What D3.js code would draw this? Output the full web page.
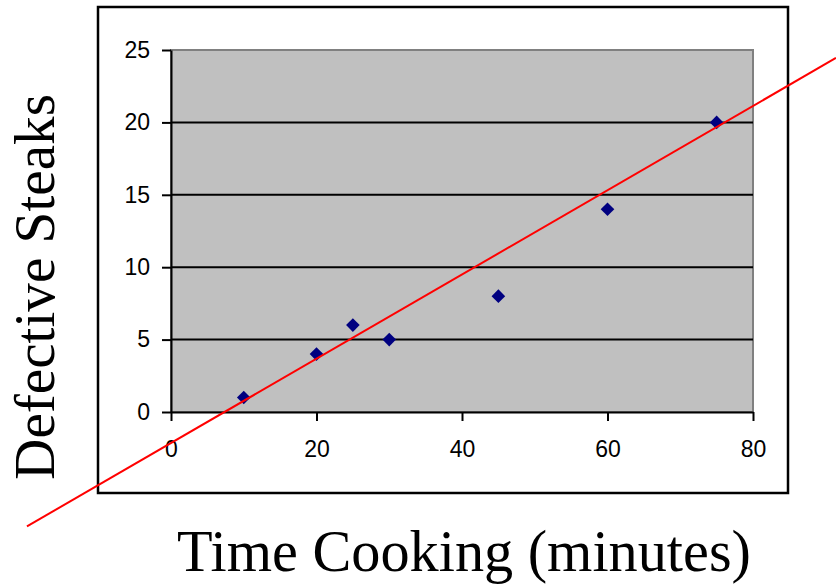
<!DOCTYPE html>
<html>
<head>
<meta charset="utf-8">
<script src="https://cdn.jsdelivr.net/npm/d3@7"></script>
<style>
  html, body { margin: 0; padding: 0; background: #fff; }
  svg { display: block; }
</style>
</head>
<body>
<svg id="chart" width="836" height="584"></svg>
<script>
// Cooking time (minutes) vs. number of defective steaks
const cookingMinutes = [10, 20, 25, 30, 45, 60, 75];
const defectiveSteaks = [1, 4, 6, 5, 8, 14, 20];

// Axis ticks
const xTicks = [0, 20, 40, 60, 80];
const yTicks = [0, 5, 10, 15, 20, 25];

// Fitted trend line, given by its two end points in data units
const trendX = [-19.8, 91.4];
const trendY = [-7.9, 24.45];

const xTitle = "Time Cooking (minutes)";
const yTitle = "Defective Steaks";

const svg = d3.select("#chart");

const plot = { left: 171, right: 753, top: 50, bottom: 412 };

const x = d3.scaleLinear().domain([0, 80]).range([plot.left, plot.right]);
const y = d3.scaleLinear().domain([0, 25]).range([plot.bottom, plot.top]);

// Outer chart frame
svg.append("rect")
  .attr("x", 98).attr("y", 7)
  .attr("width", 690).attr("height", 486)
  .attr("fill", "#fff")
  .attr("stroke", "#000")
  .attr("stroke-width", 2.5);

// Plot area background with grey border
svg.append("rect")
  .attr("x", plot.left).attr("y", plot.top)
  .attr("width", plot.right - plot.left)
  .attr("height", plot.bottom - plot.top)
  .attr("fill", "#c0c0c0")
  .attr("stroke", "#808080")
  .attr("stroke-width", 2);

// Horizontal gridlines
svg.append("g")
  .selectAll("line")
  .data(yTicks.filter(d => d > 0 && d < 25))
  .join("line")
  .attr("x1", plot.left).attr("x2", plot.right)
  .attr("y1", d => y(d)).attr("y2", d => y(d))
  .attr("stroke", "#000")
  .attr("stroke-width", 2);

// Y axis
const yAxis = svg.append("g")
  .attr("transform", `translate(${plot.left},0)`)
  .call(d3.axisLeft(y).tickValues(yTicks).tickSize(9).tickPadding(12).tickSizeOuter(0));
yAxis.select(".domain").attr("stroke", "#000").attr("stroke-width", 2);
yAxis.selectAll(".tick line").attr("stroke", "#000").attr("stroke-width", 2);
yAxis.selectAll(".tick text")
  .attr("font-family", "'Liberation Sans', Arial, sans-serif")
  .attr("font-size", 23)
  .attr("fill", "#000");

// X axis
const xAxis = svg.append("g")
  .attr("transform", `translate(0,${plot.bottom})`)
  .call(d3.axisBottom(x).tickValues(xTicks).tickSize(9).tickPadding(20).tickSizeOuter(0));
xAxis.select(".domain").attr("stroke", "#000").attr("stroke-width", 2);
xAxis.selectAll(".tick line").attr("stroke", "#000").attr("stroke-width", 2);
xAxis.selectAll(".tick text")
  .attr("font-family", "'Liberation Sans', Arial, sans-serif")
  .attr("font-size", 23)
  .attr("fill", "#000");

// Data points as navy diamonds
const pts = cookingMinutes.map((m, i) => ({ m, s: defectiveSteaks[i] }));
svg.append("g")
  .selectAll("path")
  .data(pts)
  .join("path")
  .attr("transform", d => `translate(${x(d.m)},${y(d.s)})`)
  .attr("d", d3.symbol(d3.symbolDiamond2, 118)())
  .attr("fill", "#000080");

// Trend line, extending past the frame
svg.append("line")
  .attr("x1", x(trendX[0])).attr("y1", y(trendY[0]))
  .attr("x2", x(trendX[1])).attr("y2", y(trendY[1]))
  .attr("stroke", "#ff0000")
  .attr("stroke-width", 2);

// Axis titles, sized to their target widths
function fitText(sel, targetWidth) {
  const base = 50;
  sel.attr("font-size", base);
  const w = sel.node().getComputedTextLength();
  sel.attr("font-size", base * targetWidth / w);
}

const xt = svg.append("text")
  .attr("x", 464).attr("y", 571)
  .attr("text-anchor", "middle")
  .attr("font-family", "'Liberation Serif', 'Times New Roman', serif")
  .attr("fill", "#000")
  .text(xTitle);
fitText(xt, 574);

const yt = svg.append("text")
  .attr("transform", "translate(54,287) rotate(-90)")
  .attr("text-anchor", "middle")
  .attr("font-family", "'Liberation Serif', 'Times New Roman', serif")
  .attr("fill", "#000")
  .text(yTitle);
fitText(yt, 386);
</script>
</body>
</html>
